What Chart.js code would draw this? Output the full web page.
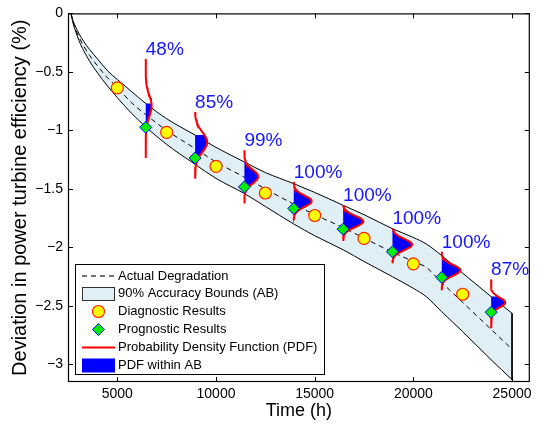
<!DOCTYPE html>
<html><head><meta charset="utf-8">
<script src="https://cdn.jsdelivr.net/npm/chart.js@4/dist/chart.umd.min.js"></script>
<style>html,body{margin:0;padding:0;background:#fff}canvas{display:block}</style>
</head><body>
<canvas id="c" width="537" height="426"></canvas>
<script>
// ---- data ----
const TIME     = [2650, 2750, 2900, 3050, 3300, 3600, 4000, 4500, 5000, 5700, 6440, 7500, 8940, 10000, 11440, 12500, 13940, 15000, 16440, 17500, 18940, 20000, 20650, 21440, 22500, 23940, 25000];
const ACTUAL   = [0, -0.07, -0.14, -0.20, -0.28, -0.36, -0.45, -0.55, -0.633, -0.76, -0.865, -1.0, -1.155, -1.27, -1.40, -1.50, -1.63, -1.72, -1.83, -1.92, -2.04, -2.12, -2.17, -2.30, -2.47, -2.70, -2.87];
const AB_UPPER = [0, -0.06, -0.12, -0.17, -0.24, -0.31, -0.39, -0.49, -0.565, -0.665, -0.77, -0.90, -1.04, -1.145, -1.27, -1.36, -1.455, -1.53, -1.64, -1.72, -1.84, -1.915, -1.97, -2.07, -2.22, -2.42, -2.563];
const AB_LOWER = [0, -0.08, -0.16, -0.23, -0.32, -0.41, -0.51, -0.62, -0.72, -0.85, -0.97, -1.12, -1.29, -1.41, -1.54, -1.65, -1.80, -1.90, -2.02, -2.12, -2.25, -2.35, -2.42, -2.55, -2.72, -2.96, -3.13];

const DIAG_T = [5000, 7500, 10000, 12500, 15000, 17500, 20000, 22500];
const DIAG_V = [-0.636, -1.017, -1.307, -1.535, -1.727, -1.923, -2.14, -2.40];

const PROG_T = [6440, 8940, 11440, 13940, 16440, 18940, 21440, 23940];
const PROG_V = [-0.974, -1.236, -1.483, -1.667, -1.844, -2.037, -2.256, -2.554];

const PDF_TOP    = [-0.39, -0.844, -1.17, -1.44, -1.64, -1.838, -2.037, -2.273];
const PDF_BOTTOM = [-1.236, -1.412, -1.625, -1.767, -1.944, -2.136, -2.364, -2.69];
const PDF_PEAK_Y = [-0.79, -1.10, -1.395, -1.605, -1.778, -1.975, -2.195, -2.47];
const PDF_SIGMA  = [0.09, 0.085, 0.058, 0.048, 0.048, 0.048, 0.046, 0.042];
const PDF_PEAK_W = [300, 615, 700, 915, 1030, 1000, 950, 720];
const PDF_PCT    = [48, 85, 99, 100, 100, 100, 100, 87];
// bell profile (half), steps of a quarter spread
const PDF_SHAPE  = [1, 0.9692, 0.8825, 0.7548, 0.6065, 0.4578, 0.3247, 0.2163, 0.1353, 0.0796, 0.0439, 0.0228, 0.0111, 0.0051, 0.0022, 0.0009, 0.0003];

const X_TICKS = [5000, 10000, 15000, 20000, 25000];
const Y_TICKS = [0, -0.5, -1, -1.5, -2, -2.5, -3];

const FONT = "'Liberation Sans', Arial, Helvetica, sans-serif";
const BAND_COLOR = '#e0eef5';

// ---- build tables ----
const xy = (xs, ys) => xs.map((x, i) => ({x, y: ys[i]}));

function pdfCurve(i) {
  const x0 = PROG_T[i], top = PDF_TOP[i], bot = PDF_BOTTOM[i];
  const pts = [{x: x0, y: top}];
  const n = PDF_SHAPE.length;
  for (let k = n - 1; k >= -(n - 1); k--) {
    const y = PDF_PEAK_Y[i] + k * 0.25 * PDF_SIGMA[i];
    if (y < top && y > bot) pts.push({x: x0 + PDF_PEAK_W[i] * PDF_SHAPE[Math.abs(k)], y});
  }
  pts.push({x: x0, y: bot});
  return pts;
}
function xAt(curve, yv) {
  for (let j = 0; j < curve.length - 1; j++) {
    const a = curve[j], b = curve[j + 1];
    if (a.y >= yv && yv >= b.y) {
      const f = a.y === b.y ? 0 : (a.y - yv) / (a.y - b.y);
      return a.x + (b.x - a.x) * f;
    }
  }
  return curve[0].x;
}
function pdfBlue(i, curve) {
  const idx = TIME.indexOf(PROG_T[i]);
  const hi = Math.min(PDF_TOP[i], AB_UPPER[idx]);
  const lo = Math.max(PDF_BOTTOM[i], AB_LOWER[idx]);
  const x0 = PROG_T[i];
  const pts = [{x: x0, y: hi}, {x: xAt(curve, hi), y: hi}];
  curve.forEach(p => { if (p.y < hi && p.y > lo) pts.push(p); });
  pts.push({x: xAt(curve, lo), y: lo});
  pts.push({x: x0, y: lo});
  return pts;
}

const datasets = [];
datasets.push({ data: xy(TIME, AB_UPPER), borderColor: '#000', borderWidth: 1, pointRadius: 0, fill: false, cubicInterpolationMode: 'monotone', order: 9 });
datasets.push({ data: xy(TIME, AB_LOWER), borderColor: '#000', borderWidth: 1, pointRadius: 0, fill: '-1', backgroundColor: BAND_COLOR, cubicInterpolationMode: 'monotone', order: 10 });
datasets.push({ data: [{x: TIME[TIME.length-1], y: AB_UPPER[AB_UPPER.length-1]}, {x: TIME[TIME.length-1], y: AB_LOWER[AB_LOWER.length-1]}], borderColor: '#000', borderWidth: 1, pointRadius: 0, fill: false, order: 8 });
datasets.push({ data: xy(TIME, ACTUAL), borderColor: '#000', borderWidth: 1, borderDash: [5, 4], pointRadius: 0, fill: false, cubicInterpolationMode: 'monotone', order: 7 });
datasets.push({ data: xy(DIAG_T, DIAG_V), showLine: false, pointStyle: 'circle', pointRadius: 6, pointBackgroundColor: '#ffff00', pointBorderColor: '#ff2000', pointBorderWidth: 1.2, order: 6 });
const curves = PROG_T.map((_, i) => pdfCurve(i));
curves.forEach((c, i) => datasets.push({ data: pdfBlue(i, c), borderColor: 'rgba(0,0,0,0)', borderWidth: 0, backgroundColor: '#0000ff', fill: 'shape', pointRadius: 0, order: 5 }));
curves.forEach(c => datasets.push({ data: c, borderColor: '#ff0000', borderWidth: 2, pointRadius: 0, fill: false, order: 4 }));
datasets.push({ data: xy(PROG_T, PROG_V), showLine: false, pointStyle: 'rectRot', pointRadius: 6, pointBackgroundColor: '#00ee00', pointBorderColor: '#0000ff', pointBorderWidth: 1, order: 1 });

// ---- plugins: frame with inward ticks, % labels, legend ----
const framePlugin = {
  id: 'frame',
  afterDraw(chart) {
    const {ctx, chartArea: a, scales: {x, y}} = chart;
    ctx.save();
    ctx.strokeStyle = '#000'; ctx.lineWidth = 1.2;
    ctx.strokeRect(a.left + 0.5, a.top + 0.5, a.right - a.left - 1, a.bottom - a.top - 1);
    ctx.lineWidth = 1;
    ctx.beginPath();
    X_TICKS.forEach(v => { const p = Math.round(x.getPixelForValue(v)) + 0.5;
      ctx.moveTo(p, a.bottom); ctx.lineTo(p, a.bottom - 5); ctx.moveTo(p, a.top); ctx.lineTo(p, a.top + 5); });
    Y_TICKS.forEach(v => { const p = Math.round(y.getPixelForValue(v)) + 0.5;
      ctx.moveTo(a.left, p); ctx.lineTo(a.left + 5, p); ctx.moveTo(a.right, p); ctx.lineTo(a.right - 5, p); });
    ctx.stroke();
    // percentage labels above each PDF
    ctx.fillStyle = '#1515ff'; ctx.font = '19px ' + FONT; ctx.textAlign = 'left'; ctx.textBaseline = 'alphabetic';
    PROG_T.forEach((t, i) => ctx.fillText(PDF_PCT[i] + '%', x.getPixelForValue(t), y.getPixelForValue(PDF_TOP[i]) - 4));
    // legend
    const L = 75.5, T = 264.5, W = 249, H = 110;
    ctx.fillStyle = '#fff'; ctx.fillRect(L, T, W, H);
    ctx.strokeStyle = '#000'; ctx.lineWidth = 1; ctx.strokeRect(L, T, W, H);
    const rows = [276, 293.5, 311.5, 329.5, 347.5, 365.5];
    const texts = ['Actual Degradation', '90% Accuracy Bounds (AB)', 'Diagnostic Results', 'Prognostic Results', 'Probability Density Function (PDF)', 'PDF within AB'];
    ctx.save(); ctx.strokeStyle = '#444'; ctx.lineWidth = 1.5; ctx.setLineDash([5, 4]);
    ctx.beginPath(); ctx.moveTo(82, rows[0]); ctx.lineTo(115, rows[0]); ctx.stroke(); ctx.restore();
    ctx.fillStyle = BAND_COLOR; ctx.fillRect(82, rows[1] - 6.5, 32, 13);
    ctx.strokeStyle = '#333'; ctx.strokeRect(82.5, rows[1] - 6, 32, 13);
    ctx.beginPath(); ctx.arc(98.5, rows[2], 6, 0, Math.PI * 2); ctx.fillStyle = '#ffff00'; ctx.fill();
    ctx.strokeStyle = '#ff2000'; ctx.lineWidth = 1.2; ctx.stroke();
    ctx.beginPath(); ctx.moveTo(98.5, rows[3] - 6); ctx.lineTo(104.5, rows[3]); ctx.lineTo(98.5, rows[3] + 6); ctx.lineTo(92.5, rows[3]); ctx.closePath();
    ctx.fillStyle = '#00ee00'; ctx.fill(); ctx.strokeStyle = '#0000ff'; ctx.lineWidth = 1; ctx.stroke();
    ctx.beginPath(); ctx.moveTo(82, rows[4]); ctx.lineTo(115, rows[4]); ctx.strokeStyle = '#ff0000'; ctx.lineWidth = 2; ctx.stroke();
    ctx.fillStyle = '#0000ff'; ctx.fillRect(82, rows[5] - 7, 33, 14);
    ctx.fillStyle = '#000'; ctx.font = '13px ' + FONT; ctx.textBaseline = 'middle';
    texts.forEach((s, i) => ctx.fillText(s, 118, rows[i]));
    ctx.restore();
  }
};

Chart.defaults.font.family = FONT;
Chart.defaults.color = '#000';

new Chart(document.getElementById('c'), {
  type: 'line',
  data: { datasets },
  options: {
    responsive: false, animation: false, devicePixelRatio: 1,
    events: [],
    layout: { padding: { top: 13, right: 1, left: 0, bottom: 0 } },
    plugins: { legend: { display: false }, tooltip: { enabled: false } },
    scales: {
      x: {
        type: 'linear', min: 2500, max: 25900,
        afterBuildTicks: s => { s.ticks = X_TICKS.map(v => ({value: v})); },
        afterFit: s => { s.height = 44; },
        grid: { display: false, drawTicks: false }, border: { display: false },
        ticks: { font: { size: 14 }, padding: 3.5, maxRotation: 0, autoSkip: false, callback: v => String(v) },
        title: { display: true, text: 'Time (h)', font: { size: 18, lineHeight: 1.2 }, padding: { top: 0, bottom: 4 } }
      },
      y: {
        type: 'linear', min: -3.15, max: 0,
        afterBuildTicks: s => { s.ticks = Y_TICKS.map(v => ({value: v})); },
        afterFit: s => { s.width = 68; },
        grid: { display: false, drawTicks: false }, border: { display: false },
        ticks: { font: { size: 14 }, padding: 5, autoSkip: false, callback: v => v === 0 ? '0' : '\u2212' + Math.abs(v) },
        title: { display: true, text: 'Deviation in power turbine efficiency (%)', font: { size: 20, lineHeight: 1.2 }, padding: { top: 8, bottom: 0 } }
      }
    }
  },
  plugins: [framePlugin]
});
</script>
</body></html>
